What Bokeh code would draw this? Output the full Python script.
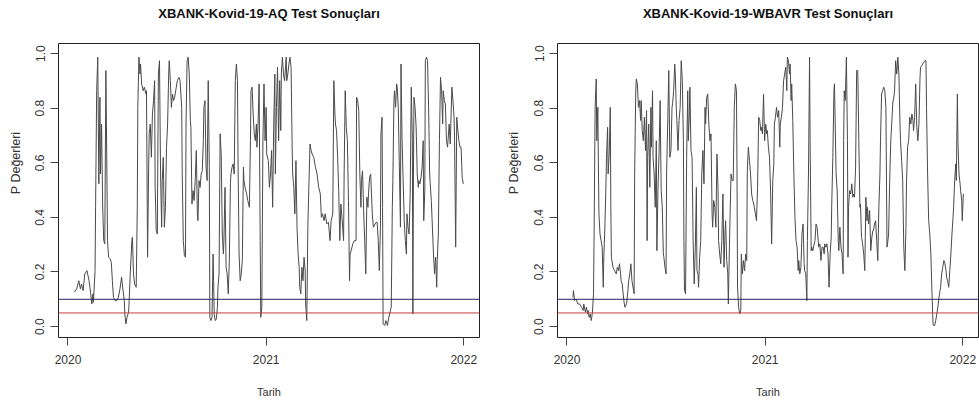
from bokeh.plotting import figure
from bokeh.layouts import row, column
from bokeh.models import Range1d, FixedTicker, Span, PrintfTickFormatter
from bokeh.core.properties import value
from bokeh.embed import file_html
from bokeh.resources import INLINE
import math

# Days since 2020-01-01 and p-values
titles = ["XBANK-Kovid-19-AQ Test Sonuçları", "XBANK-Kovid-19-WBAVR Test Sonuçları"]
x_label = "Tarih"
y_label = "P Değerleri"
year_tick_days = [0, 366, 731]
year_tick_labels = ["2020", "2021", "2022"]
y_ticks = [0.0, 0.2, 0.4, 0.6, 0.8, 1.0]
thresholds = [0.10, 0.05]

day_aq = [12,16,20,23,25,28,31,35,39,42,44,46,47,50,51,53,55,57,59,60,62,64,66,68,70,72,73,75,78,80,82,84,87,90,93,96,99,101,104,105,107,109,112,113,115,118,119,121,123,126,128,129,131,133,134,136,139,141,144,145,147,149,150,152,154,156,158,160,161,163,165,167,169,171,173,174,176,178,
    180,182,184,186,187,189,191,193,195,197,200,202,205,207,210,211,213,215,217,218,220,222,224,226,227,229,231,233,235,237,239,240,242,244,246,248,250,251,253,255,257,259,261,262,264,266,268,269,270,272,274,276,277,279,281,283,285,287,288,290,292,294,296,298,300,301,303,305,307,309,311,313,314,316,318,320,322,324,325,327,330,332,335,337,338,340,342,344,346,348,349,351,353,355,356,358,360,362,364,366,367,370,372,
    374,376,378,380,382,383,385,387,389,391,393,394,396,398,400,403,404,406,408,410,412,414,415,417,419,421,423,425,427,428,430,432,434,436,438,439,441,443,445,447,449,451,454,457,460,463,466,468,470,473,475,478,481,484,486,489,491,493,494,496,498,500,502,504,506,509,510,512,514,516,518,520,521,523,526,529,532,533,535,537,539,541,542,544,546,548,550,552,554,555,557,559,562,564,
    569,571,573,575,577,578,580,581,582,585,587,590,592,594,597,599,600,602,603,605,607,608,610,612,614,615,617,619,621,623,625,626,628,630,632,634,636,637,638,639,641,643,645,647,648,650,652,654,656,657,659,660,662,664,666,668,669,671,673,675,677,679,681,682,684,686,688,690,692,693,695,697,699,701,704,706,709,711,713,714,716,718,720,722,724,726,728,730]
p_aq = [0.126,0.138,0.168,0.138,0.156,0.132,0.193,0.205,0.168,0.12,0.083,0.12,0.089,0.205,0.437,0.864,0.987,0.523,0.84,0.559,0.742,0.449,0.315,0.303,0.938,0.535,0.315,0.254,0.248,0.236,0.168,0.107,0.095,0.095,0.107,0.138,0.181,0.144,0.095,0.046,0.01,0.034,0.053,0.095,0.193,0.315,0.327,0.193,0.156,0.144,0.437,0.803,0.987,0.925,0.962,0.889,0.864,0.877,0.852,0.864,0.254,0.584,0.706,0.742,0.62,0.779,0.828,0.901,0.51,0.352,0.339,0.925,0.974,0.559,0.364,0.535,0.62,0.364,
    0.437,0.657,0.742,0.925,0.974,0.901,0.803,0.852,0.828,0.84,0.877,0.901,0.913,0.901,0.803,0.559,0.315,0.26,0.254,0.742,0.974,0.987,0.925,0.755,0.73,0.449,0.498,0.462,0.535,0.645,0.413,0.388,0.535,0.51,0.559,0.571,0.681,0.803,0.828,0.584,0.535,0.901,0.584,0.034,0.022,0.034,0.266,0.168,0.046,0.022,0.028,0.071,0.144,0.193,0.706,0.632,0.339,0.266,0.315,0.51,0.217,0.193,0.12,0.242,0.523,0.559,0.584,0.596,0.559,0.901,0.962,0.901,0.62,0.266,0.168,0.193,0.242,0.584,0.535,0.51,0.486,0.462,0.437,0.681,0.864,0.877,0.779,0.706,0.681,0.742,0.657,0.742,0.889,0.315,0.034,0.071,0.681,0.889,0.681,0.803,0.632,0.608,0.51,
    0.559,0.645,0.437,0.742,0.925,0.559,0.803,0.95,0.681,0.901,0.718,0.925,0.987,0.925,0.901,0.987,0.901,0.925,0.962,0.987,0.95,0.657,0.559,0.51,0.413,0.608,0.364,0.266,0.217,0.144,0.12,0.217,0.168,0.254,0.205,0.083,0.022,0.364,0.523,0.669,0.645,0.632,0.62,0.584,0.559,0.51,0.486,0.4,0.413,0.388,0.413,0.376,0.382,0.315,0.388,0.413,0.901,0.779,0.742,0.718,0.62,0.498,0.315,0.449,0.4,0.315,0.559,0.864,0.73,0.681,0.462,0.168,0.266,0.278,0.303,0.315,0.315,0.84,0.828,0.791,0.559,0.437,0.535,0.571,0.425,0.315,0.193,0.474,0.437,0.486,0.547,0.559,0.413,0.364,
    0.382,0.382,0.315,0.205,0.364,0.706,0.767,0.437,0.01,0.004,0.022,0.004,0.028,0.046,0.071,0.437,0.535,0.828,0.864,0.803,0.889,0.877,0.803,0.584,0.364,0.962,0.681,0.535,0.388,0.315,0.266,0.413,0.364,0.339,0.486,0.877,0.681,0.046,0.559,0.84,0.803,0.73,0.559,0.51,0.535,0.523,0.547,0.584,0.681,0.388,0.498,0.974,0.987,0.974,0.803,0.559,0.523,0.462,0.364,0.266,0.193,0.254,0.144,0.242,0.339,0.681,0.913,0.864,0.742,0.864,0.828,0.816,0.681,0.657,0.742,0.669,0.877,0.828,0.767,0.681,0.291,0.767,0.718,0.681,0.657,0.657,0.547,0.523]

day_wbavr = [11,12,14,17,20,23,27,30,31,34,36,38,39,41,43,45,47,49,50,51,52,54,55,57,58,59,61,63,65,67,68,70,72,73,75,76,78,80,81,82,85,88,91,93,95,97,99,100,102,105,107,110,112,114,116,118,120,121,124,125,127,128,130,132,134,136,137,139,141,143,145,147,148,149,151,153,155,156,158,159,161,163,165,166,168,170,172,174,176,178,179,181,183,184,186,188,190,192,194,195,197,199,200,202,203,205,207,209,211,213,215,216,217,219,221,223,224,226,227,229,231,233,235,237,239,
    240,242,243,245,247,249,251,253,255,256,258,260,262,264,266,268,269,271,273,275,277,279,280,282,284,286,288,290,292,293,295,297,298,300,301,303,305,307,309,311,313,314,315,317,319,321,322,324,326,328,330,332,333,335,337,339,341,343,345,346,348,350,352,354,356,358,359,361,363,365,367,369,370,372,374,376,378,380,382,383,385,387,389,391,393,394,396,398,400,402,404,406,407,409,411,412,414,415,417,419,421,423,425,427,428,430,432,434,436,438,439,441,443,444,446,448,449,451,452,454,456,458,460,462,464,465,467,469,471,473,475,476,478,480,482,484,486,488,489,491,493,494,495,497,
    499,501,502,504,506,508,510,511,512,514,516,518,519,520,522,524,526,528,529,531,533,535,537,539,541,542,544,546,548,550,552,554,555,557,559,561,563,565,566,568,570,572,574,576,578,579,581,583,585,587,589,591,592,594,596,598,600,602,603,605,607,609,611,613,615,616,618,620,622,624,626,627,629,631,633,635,637,639,640,642,644,646,648,650,652,653,655,657,659,661,663,664,666,668,670,672,674,676,677,679,681,683,685,687,689,690,692,694,696,698,700,701,703,705,707,709,711,713,714,716,718,719,721,722,724,726,727,729,730,732]
p_wbavr = [0.107,0.132,0.095,0.101,0.083,0.083,0.071,0.059,0.083,0.053,0.071,0.046,0.059,0.034,0.046,0.022,0.053,0.12,0.315,0.559,0.803,0.907,0.681,0.803,0.596,0.413,0.339,0.315,0.291,0.144,0.254,0.364,0.523,0.62,0.73,0.559,0.632,0.803,0.437,0.254,0.217,0.205,0.193,0.217,0.205,0.23,0.193,0.168,0.156,0.095,0.071,0.083,0.12,0.168,0.193,0.23,0.168,0.156,0.12,0.559,0.864,0.907,0.889,0.803,0.828,0.755,0.828,0.718,0.681,0.767,0.645,0.791,0.315,0.62,0.742,0.51,0.803,0.657,0.864,0.62,0.559,0.437,0.681,0.278,0.498,0.632,0.828,0.498,0.437,0.266,0.254,0.217,0.193,0.559,0.742,0.938,0.62,0.645,0.803,0.816,0.864,0.962,0.925,0.791,0.755,0.645,0.755,0.803,0.974,0.901,0.681,0.315,0.132,0.12,0.62,0.864,0.681,0.779,0.877,0.645,0.62,0.315,0.156,0.291,0.51,
    0.205,0.193,0.144,0.254,0.315,0.559,0.645,0.523,0.803,0.742,0.84,0.852,0.742,0.681,0.706,0.413,0.364,0.462,0.437,0.364,0.632,0.498,0.315,0.266,0.23,0.315,0.486,0.217,0.352,0.388,0.242,0.193,0.083,0.291,0.388,0.559,0.535,0.535,0.803,0.889,0.864,0.559,0.144,0.071,0.046,0.059,0.266,0.193,0.242,0.205,0.266,0.242,0.571,0.657,0.608,0.559,0.486,0.462,0.449,0.437,0.413,0.388,0.51,0.767,0.755,0.718,0.73,0.706,0.852,0.681,0.742,0.706,0.718,0.657,0.62,0.498,0.303,0.535,0.596,0.742,0.767,0.803,0.767,0.791,0.657,0.742,0.767,0.803,0.901,0.925,0.95,0.864,0.987,0.974,0.925,0.962,0.828,0.889,0.755,0.559,0.4,0.315,0.291,0.205,0.242,0.193,0.217,0.339,0.376,0.23,0.205,0.193,0.095,0.315,0.559,0.987,0.681,0.278,0.291,0.278,0.297,0.315,0.376,0.364,0.315,0.291,0.303,0.242,0.291,0.291,0.266,0.303,0.291,0.303,0.266,0.144,0.266,0.327,0.449,0.62,0.864,0.889,0.779,0.559,
    0.498,0.315,0.278,0.364,0.291,0.266,0.193,0.681,0.864,0.828,0.987,0.681,0.254,0.437,0.498,0.486,0.523,0.474,0.486,0.474,0.584,0.938,0.938,0.681,0.437,0.449,0.327,0.303,0.266,0.205,0.474,0.388,0.437,0.376,0.425,0.278,0.327,0.352,0.352,0.376,0.388,0.315,0.242,0.437,0.559,0.681,0.852,0.864,0.877,0.864,0.803,0.291,0.303,0.339,0.535,0.681,0.755,0.828,0.828,0.864,0.974,0.925,0.987,0.925,0.742,0.681,0.608,0.535,0.291,0.205,0.364,0.523,0.657,0.681,0.767,0.742,0.779,0.755,0.718,0.767,0.889,0.73,0.681,0.742,0.913,0.95,0.956,0.962,0.968,0.974,0.974,0.803,0.559,0.388,0.339,0.266,0.132,0.01,0.004,0.004,0.022,0.046,0.071,0.107,0.132,0.144,0.193,0.217,0.242,0.23,0.205,0.181,0.168,0.144,0.205,0.266,0.339,0.4,0.437,0.535,0.596,0.535,0.852,0.681,0.559,0.523,0.498,0.462,0.388,0.486]

FONT = "Liberation Sans"
X0, X1 = -17.5, 760.0
Y0, Y1 = -0.04, 1.037
FRAME_W, FRAME_H = 421, 294
TOP, BOTTOM = 43, 68


def text_strip(width, height, label, x, y, size, bold=False, angle=0.0):
    """A small figure whose frame is the whole canvas, holding one text."""
    f = figure(width=width, height=height, x_range=Range1d(0, width), y_range=Range1d(0, height),
               output_backend="svg", toolbar_location=None,
               x_axis_location=None, y_axis_location=None,
               min_border=0, outline_line_color=None,
               background_fill_color="white", border_fill_color="white")
    f.grid.visible = False
    f.text(x=[x], y=[y], text=[label], angle=angle, text_align="center",
           text_baseline="middle", text_font=value(FONT), text_font_size=size,
           text_font_style="bold" if bold else "normal",
           text_color="#111111" if bold else "#333333")
    return f


def make_main(days, vals, border_left, border_right):
    p = figure(frame_width=FRAME_W, frame_height=FRAME_H,
               x_range=Range1d(X0, X1), y_range=Range1d(Y0, Y1),
               output_backend="svg", toolbar_location=None,
               min_border_left=border_left, min_border_right=border_right,
               min_border_top=0, min_border_bottom=BOTTOM,
               background_fill_color="white", border_fill_color="white")
    p.grid.visible = False
    p.outline_line_color = "#222222"
    p.outline_line_width = 1
    p.outline_line_alpha = 1.0

    p.xaxis.ticker = FixedTicker(ticks=year_tick_days)
    p.xaxis.major_label_overrides = {d: lab for d, lab in zip(year_tick_days, year_tick_labels)}
    p.yaxis.ticker = FixedTicker(ticks=y_ticks)
    p.yaxis.formatter = PrintfTickFormatter(format="%.1f")
    p.yaxis.major_label_orientation = "vertical"

    for ax in (p.xaxis, p.yaxis):
        ax.axis_line_color = None
        ax.major_tick_in = 0
        ax.major_tick_out = 8
        ax.major_tick_line_color = "#444444"
        ax.minor_tick_line_color = None
        ax.major_label_text_font = FONT
        ax.major_label_text_font_size = "12px"
        ax.major_label_text_color = "#333333"
    p.xaxis.major_label_standoff = 9
    p.yaxis.major_label_standoff = 6
    p.xaxis.axis_label = x_label
    p.xaxis.axis_label_text_font = FONT
    p.xaxis.axis_label_text_font_style = "normal"
    p.xaxis.axis_label_text_font_size = "11px"
    p.xaxis.axis_label_text_color = "#333333"
    p.xaxis.axis_label_standoff = 19

    p.line(days, vals, line_color="#4a4a4a", line_width=1)
    p.add_layout(Span(location=thresholds[0], dimension="width",
                      line_color="#22226e", line_width=1))
    p.add_layout(Span(location=thresholds[1], dimension="width",
                      line_color="#c8413d", line_width=1))
    return p


def make_panel(title, days, vals, total_w, frame_left, right_border, ylab_w, ylab_x, title_x):
    main = make_main(days, vals, frame_left - ylab_w, right_border)
    ylab = text_strip(ylab_w, FRAME_H + BOTTOM, y_label, ylab_x, BOTTOM + FRAME_H / 2.0,
                      "12.5px", angle=math.pi / 2)
    head = text_strip(total_w, TOP, title, title_x, TOP - 12.5, "13px", bold=True)
    return column(head, row(ylab, main, spacing=0), spacing=0)


left = make_panel(titles[0], day_aq, p_aq, 489, 58, 10, 26, 15, 58 + FRAME_W / 2.0)
right = make_panel(titles[1], day_wbavr, p_wbavr, 490, 68, 1, 36, 24, 68 + FRAME_W / 2.0)
layout = row(left, right, spacing=0)

open("out.html", "w").write(file_html(layout, INLINE))
